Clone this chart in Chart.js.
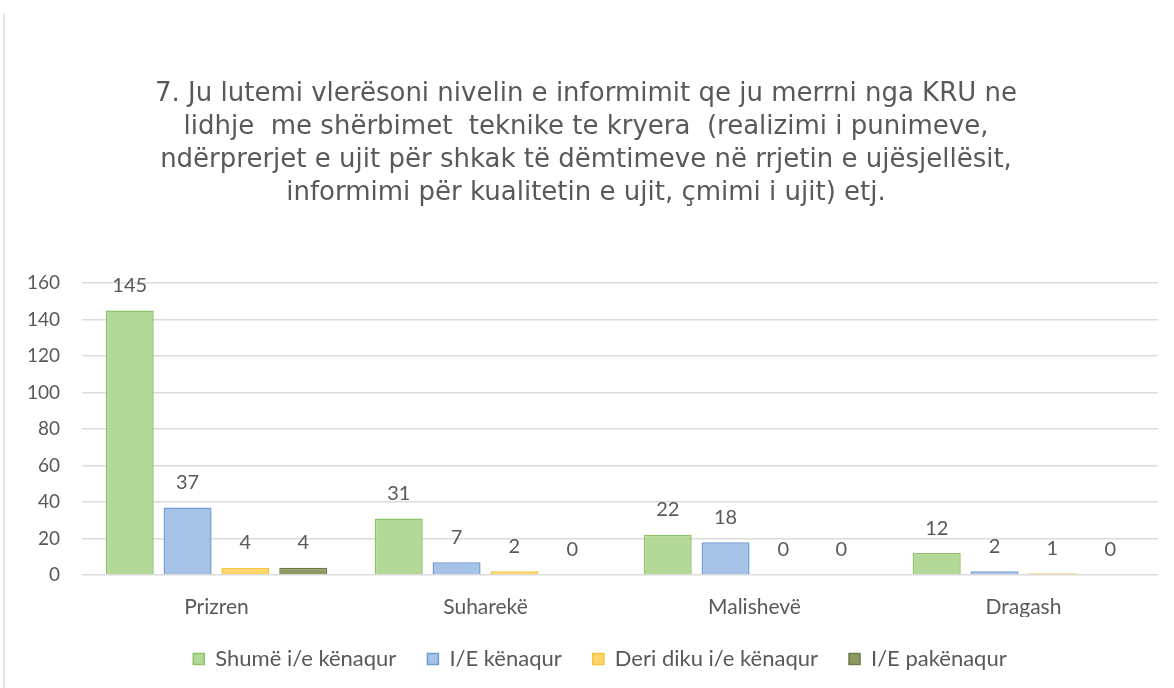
<!DOCTYPE html>
<html>
<head>
<meta charset="utf-8">
<script src="https://cdn.jsdelivr.net/npm/chart.js@4/dist/chart.umd.min.js"></script>
<style>
  html, body { margin: 0; padding: 0; background: #ffffff; }
  #wrap { position: relative; width: 1174px; height: 688px; }
  #edge { position: absolute; left: 3px; top: 14px; bottom: 0; width: 2px; background: #e4e4e4; }
  canvas { position: absolute; left: 0; top: 0; }
</style>
</head>
<body>
<div id="wrap">
  <div id="edge"></div>
  <canvas id="chart" width="1174" height="688"></canvas>
</div>
<script>
// Municipalities surveyed
const categories = ['Prizren', 'Suharekë', 'Malishevë', 'Dragash'];

// Answer counts per satisfaction level
const shumeKenaqur = [145, 31, 22, 12];
const kenaqur      = [37, 7, 18, 2];
const deriDiku     = [4, 2, 0, 1];
const pakenaqur    = [4, 0, 0, 0];

const seriesNames = ['Shumë i/e kënaqur', 'I/E kënaqur', 'Deri diku i/e kënaqur', 'I/E pakënaqur'];
const yTicks = [0, 20, 40, 60, 80, 100, 120, 140, 160];

const titleLines = [
  '7. Ju lutemi vlerësoni nivelin e informimit qe ju merrni nga KRU ne',
  'lidhje  me shërbimet  teknike te kryera  (realizimi i punimeve,',
  'ndërprerjet e ujit për shkak të dëmtimeve në rrjetin e ujësjellësit,',
  'informimi për kualitetin e ujit, çmimi i ujit) etj.'
];

const fills   = ['#b3d897', '#a6c3e7', '#fdd669', '#8b9a60'];
const borders = ['#8dc266', '#6f9cd5', '#f3c43c', '#6c7b45'];
const TEXT = '#595959';
const SANS = 'Lato, "Noto Sans", sans-serif';

// Value labels above each bar
const valueLabels = {
  id: 'valueLabels',
  afterDatasetsDraw(chart) {
    const ctx = chart.ctx;
    ctx.save();
    ctx.font = '20px ' + SANS;
    ctx.fillStyle = TEXT;
    ctx.textAlign = 'center';
    ctx.textBaseline = 'middle';
    chart.data.datasets.forEach((ds, i) => {
      const meta = chart.getDatasetMeta(i);
      meta.data.forEach((bar, j) => {
        ctx.fillText(String(ds.data[j]), bar.x, bar.y - 25);
      });
    });
    ctx.restore();
  }
};

// Nudge the legend row a little to the right of the canvas centre
const legendShift = {
  id: 'legendShift',
  afterLayout(chart) {
    if (chart.legend) {
      chart.legend.left += 14;
      chart.legend.right += 14;
    }
  }
};

const datasets = [shumeKenaqur, kenaqur, deriDiku, pakenaqur].map((vals, i) => ({
  label: seriesNames[i],
  data: vals,
  backgroundColor: fills[i],
  borderColor: borders[i],
  borderWidth: (c) => (c.raw === 0 ? 0 : 1.5),
  categoryPercentage: 0.86,
  barPercentage: 0.83
}));

new Chart(document.getElementById('chart'), {
  type: 'bar',
  data: { labels: categories, datasets },
  plugins: [valueLabels, legendShift],
  options: {
    responsive: false,
    animation: false,
    layout: { padding: { left: 14, right: 16, top: 78, bottom: 8 } },
    plugins: {
      tooltip: { enabled: false },
      title: {
        display: true,
        text: titleLines,
        color: TEXT,
        font: { family: '"DejaVu Sans", Verdana, sans-serif', size: 26, weight: 'normal', lineHeight: 1.27 },
        padding: { top: 0, bottom: 73 }
      },
      legend: {
        position: 'bottom',
        labels: {
          color: TEXT,
          font: { family: SANS, size: 22 },
          boxWidth: 11,
          boxHeight: 11,
          padding: 31
        }
      }
    },
    scales: {
      x: {
        grid: { display: false },
        border: { display: false },
        afterFit: (s) => { s.height = 42; },
        ticks: { color: TEXT, font: { family: SANS, size: 21 }, padding: 12 }
      },
      y: {
        min: 0,
        max: 160,
        afterBuildTicks: (s) => { s.ticks = yTicks.map(v => ({ value: v })); },
        afterFit: (s) => { s.width = 68; },
        grid: { color: '#dcdcdc', lineWidth: 1.5, drawTicks: false },
        border: { display: false },
        ticks: { color: TEXT, font: { family: SANS, size: 19 }, padding: 22 }
      }
    }
  }
});
</script>
</body>
</html>
